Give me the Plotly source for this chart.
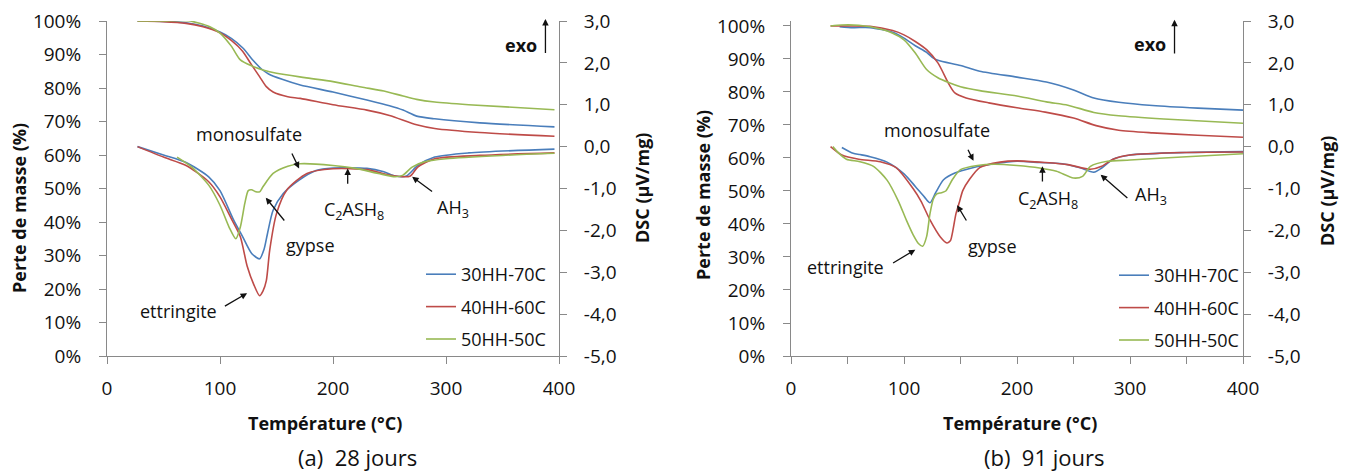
import plotly.graph_objects as go

# ---------------- DATA ----------------
SERIES = ["30HH-70C", "40HH-60C", "50HH-50C"]
COLORS = ["#4a7ebb", "#be4b48", "#98b954"]

# Panel (a) 28 jours : TG (% mass)
A_TG_BLUE_T = [27, 50, 70, 85, 100, 110, 120, 130, 137, 143, 155, 171, 200, 230, 250, 262, 274, 290, 330, 396]
A_TG_BLUE = [100, 99.9, 99.5, 98.5, 96.7, 94.8, 92.0, 88.0, 85.6, 84.2, 82.6, 80.9, 78.8, 76.4, 74.7, 73.4, 71.6, 70.8, 69.6, 68.4]
A_TG_RED_T = [27, 50, 70, 85, 100, 110, 120, 127, 135, 141, 147, 160, 171, 200, 230, 250, 274, 290, 330, 396]
A_TG_RED = [100, 99.8, 99.3, 98.3, 96.5, 94.2, 91.0, 87.4, 83.4, 80.4, 78.8, 77.4, 76.9, 75.0, 73.4, 71.8, 69.0, 67.9, 66.7, 65.6]
A_TG_GREEN_T = [27, 50, 72, 91, 100, 110, 118, 128, 138, 150, 175, 200, 225, 245, 262, 274, 290, 320, 396]
A_TG_GREEN = [100, 100, 100.1, 98.3, 96.4, 92.5, 88.4, 86.6, 85.4, 84.4, 83.1, 81.9, 80.3, 79.1, 77.6, 76.6, 75.8, 75.0, 73.5]

# Panel (a) : DSC (µV/mg)
A_DSC_BLUE_T = [27, 50, 70, 90, 100, 112, 120, 128, 135, 139, 142, 147, 156, 170, 185, 200, 230, 245, 255, 265, 275, 290, 320, 396]
A_DSC_BLUE = [0.0, -0.2, -0.38, -0.72, -1.05, -1.75, -2.15, -2.55, -2.68, -2.45, -2.08, -1.52, -1.12, -0.8, -0.57, -0.51, -0.52, -0.6, -0.7, -0.7, -0.45, -0.25, -0.15, -0.06]
A_DSC_RED_T = [27, 50, 70, 90, 100, 110, 118, 124, 130, 135, 138, 141, 144, 150, 159, 177, 200, 230, 250, 268, 275, 290, 330, 396]
A_DSC_RED = [0.0, -0.25, -0.45, -0.84, -1.2, -1.72, -2.15, -2.85, -3.3, -3.56, -3.45, -3.2, -2.47, -1.6, -1.04, -0.64, -0.53, -0.55, -0.68, -0.71, -0.49, -0.29, -0.21, -0.15]
A_DSC_GREEN_T = [62, 75, 90, 100, 108, 114, 118, 122, 125, 128, 131, 135, 138, 147, 160, 171, 200, 220, 240, 255, 262, 270, 280, 300, 350, 396]
A_DSC_GREEN = [-0.25, -0.49, -0.92, -1.4, -1.92, -2.2, -1.92, -1.35, -1.05, -1.03, -1.07, -1.08, -0.96, -0.64, -0.47, -0.41, -0.45, -0.52, -0.64, -0.72, -0.68, -0.49, -0.37, -0.29, -0.21, -0.16]

# Panel (b) 91 jours : TG (% mass)
B_TG_BLUE_T = [43, 55, 70, 90, 100, 110, 120, 125, 130, 150, 167, 200, 226, 250, 268, 290, 320, 360, 400]
B_TG_BLUE = [99.8, 99.5, 99.5, 98.1, 96.3, 94.0, 92.0, 90.5, 89.6, 88.0, 86.3, 84.5, 83.0, 80.6, 78.2, 76.9, 75.9, 75.1, 74.5]
B_TG_RED_T = [35, 50, 70, 90, 100, 110, 120, 130, 140, 145, 155, 175, 200, 225, 250, 270, 290, 320, 360, 400]
B_TG_RED = [100, 100, 99.9, 98.6, 97.3, 95.3, 92.8, 88.8, 82.2, 79.7, 78.2, 76.7, 75.2, 73.9, 72.1, 69.8, 68.4, 67.6, 66.9, 66.3]
B_TG_GREEN_T = [35, 45, 60, 80, 90, 100, 110, 120, 130, 140, 150, 167, 200, 226, 245, 268, 290, 330, 400]
B_TG_GREEN = [100, 100.3, 100.2, 99.0, 97.8, 95.8, 91.8, 86.8, 84.3, 82.8, 81.6, 80.4, 78.8, 77.0, 76.0, 73.8, 72.8, 71.8, 70.5]

# Panel (b) : DSC (µV/mg)
B_DSC_BLUE_T = [45, 55, 61, 70, 85, 100, 110, 118, 123, 128, 135, 145, 160, 180, 200, 220, 240, 255, 268, 275, 285, 300, 350, 400]
B_DSC_BLUE = [-0.02, -0.16, -0.19, -0.24, -0.37, -0.65, -0.95, -1.2, -1.34, -1.1, -0.79, -0.63, -0.51, -0.41, -0.35, -0.38, -0.41, -0.5, -0.61, -0.51, -0.3, -0.2, -0.14, -0.12]
B_DSC_RED_T = [35, 45, 60, 79, 93, 108, 115, 123, 132, 138, 141, 143, 146, 149, 152, 158, 167, 185, 200, 225, 245, 265, 275, 285, 300, 350, 400]
B_DSC_RED = [0.0, -0.2, -0.3, -0.36, -0.5, -1.0, -1.3, -1.75, -2.15, -2.3, -2.25, -2.04, -1.6, -1.33, -1.05, -0.78, -0.5, -0.37, -0.34, -0.38, -0.43, -0.54, -0.47, -0.3, -0.2, -0.14, -0.13]
B_DSC_GREEN_T = [37, 42, 49, 61, 73, 85, 95, 102, 108, 113, 116.5, 120, 123, 126, 129, 133, 137, 143, 150, 165, 180, 200, 220, 235, 250, 258, 265, 280, 300, 350, 400]
B_DSC_GREEN = [0.0, -0.15, -0.3, -0.36, -0.47, -0.8, -1.3, -1.75, -2.1, -2.32, -2.38, -2.15, -1.6, -1.25, -1.13, -1.1, -1.06, -0.78, -0.55, -0.45, -0.42, -0.45, -0.51, -0.59, -0.75, -0.71, -0.47, -0.35, -0.32, -0.24, -0.17]

PCT_TICKS = [0, 10, 20, 30, 40, 50, 60, 70, 80, 90, 100]
PCT_LABELS = [f"{v}%" for v in PCT_TICKS]
DSC_TICKS = [-5, -4, -3, -2, -1, 0, 1, 2, 3]
DSC_LABELS = ["-5,0", "-4,0", "-3,0", "-2,0", "-1,0", "0,0", "1,0", "2,0", "3,0"]
T_TICKS = [0, 100, 200, 300, 400]

# ---------------- FIGURE ----------------
FONT = "Open Sans"
AX = "#898989"
TXT = "#111"
fig = go.Figure()

panels = [
    ("x", "y", "y2", "legend",
     [(A_TG_BLUE_T, A_TG_BLUE), (A_TG_RED_T, A_TG_RED), (A_TG_GREEN_T, A_TG_GREEN)],
     [(A_DSC_BLUE_T, A_DSC_BLUE), (A_DSC_RED_T, A_DSC_RED), (A_DSC_GREEN_T, A_DSC_GREEN)]),
    ("x2", "y3", "y4", "legend2",
     [(B_TG_BLUE_T, B_TG_BLUE), (B_TG_RED_T, B_TG_RED), (B_TG_GREEN_T, B_TG_GREEN)],
     [(B_DSC_BLUE_T, B_DSC_BLUE), (B_DSC_RED_T, B_DSC_RED), (B_DSC_GREEN_T, B_DSC_GREEN)]),
]
for xa, ytg, ydsc, leg, tg, dsc in panels:
    for i, (t, v) in enumerate(tg):
        fig.add_trace(go.Scatter(x=t, y=v, xaxis=xa, yaxis=ytg, mode="lines",
                                 line=dict(color=COLORS[i], width=1.6, shape="spline", smoothing=0.7),
                                 showlegend=False, hoverinfo="skip"))
    for i, (t, v) in enumerate(dsc):
        fig.add_trace(go.Scatter(x=t, y=v, xaxis=xa, yaxis=ydsc, mode="lines", name=SERIES[i],
                                 legend=leg, legendgroup=leg + SERIES[i],
                                 line=dict(color=COLORS[i], width=1.6, shape="spline", smoothing=0.7)))

TICKFONT = dict(family=FONT, size=19, color=TXT)
common = dict(showline=True, linecolor=AX, linewidth=1, ticks="outside", tickcolor=AX, ticklen=7,
              showgrid=False, zeroline=False, automargin=False, tickfont=TICKFONT)
YDOM = [(473 - 356) / 473, (473 - 21) / 473]
XDOM_A = [107 / 1354, 559 / 1354]
XDOM_B = [791 / 1354, 1243 / 1354]

LEGFONT = dict(family=FONT, size=18, color=TXT)
fig.update_layout(
    width=1354, height=473, autosize=False,
    margin=dict(l=0, r=0, t=0, b=0, pad=0, autoexpand=False),
    paper_bgcolor="white", plot_bgcolor="white",
    font=dict(family=FONT, size=18, color=TXT),
    xaxis=dict(domain=XDOM_A, range=[0, 400], tickvals=T_TICKS, anchor="y", ticklabelstandoff=8, **common),
    yaxis=dict(domain=YDOM, range=[0, 100], tickvals=PCT_TICKS, ticktext=PCT_LABELS, anchor="x",
               ticklabelstandoff=14, **common),
    yaxis2=dict(range=[-5, 3], tickvals=DSC_TICKS, ticktext=DSC_LABELS, overlaying="y", side="right",
                anchor="x", ticklabelstandoff=13, **common),
    xaxis2=dict(domain=XDOM_B, range=[0, 400], tickvals=T_TICKS, anchor="y3", ticklabelstandoff=8,
                minor=dict(dtick=50, ticks="outside", ticklen=7, tickcolor=AX), **common),
    yaxis3=dict(domain=YDOM, range=[0, 101.5], tickvals=PCT_TICKS, ticktext=PCT_LABELS, anchor="x2",
                ticklabelstandoff=14, **common),
    yaxis4=dict(range=[-5, 3], tickvals=DSC_TICKS, ticktext=DSC_LABELS, overlaying="y3", side="right",
                anchor="x2", ticklabelstandoff=13, **common),
    legend=dict(x=421 / 1354, y=(473 - 256) / 473, xanchor="left", yanchor="top",
                font=LEGFONT, bgcolor="rgba(0,0,0,0)",
                tracegroupgap=6, itemwidth=30, traceorder="grouped"),
    legend2=dict(x=1114 / 1354, y=(473 - 257) / 473, xanchor="left", yanchor="top",
                 font=LEGFONT, bgcolor="rgba(0,0,0,0)",
                 tracegroupgap=6, itemwidth=30, traceorder="grouped"),
)

ann = []
def label(text, x, y, xr, yr, anchor="center"):
    ann.append(dict(text=text, x=x, y=y, xref=xr, yref=yr, showarrow=False, xanchor=anchor,
                    yanchor="middle", font=dict(family=FONT, size=18, color=TXT)))

def arrow(x, y, ax, ay, xr, yr):
    ann.append(dict(text="", x=x, y=y, ax=ax, ay=ay, xref=xr, yref=yr, axref=xr, ayref=yr,
                    showarrow=True, arrowhead=2, arrowsize=1, arrowwidth=1.3, arrowcolor=TXT))

# panel (a)
label("monosulfate", 126, 0.29, "x", "y2")
arrow(170, -0.52, 163, -0.13, "x", "y2")
label("gypse", 180, -2.35, "x", "y2")
arrow(140.5, -1.22, 158, -1.8, "x", "y2")
label("ettringite", 63, -3.92, "x", "y2")
arrow(124, -3.5, 103, -3.83, "x", "y2")
label("C<sub>2</sub>ASH<sub>8</sub>", 219, -1.53, "x", "y2")
arrow(213, -0.52, 213, -0.92, "x", "y2")
label("AH<sub>3</sub>", 306, -1.48, "x", "y2")
arrow(270, -0.72, 289, -1.1, "x", "y2")
label("<b>exo</b>", 382, 2.42, "x", "y2", anchor="right")
arrow(388, 3.05, 388, 2.2, "x", "y2")
# panel (b)
label("monosulfate", 129, 0.39, "x2", "y4")
arrow(161.5, -0.34, 156, -0.04, "x2", "y4")
label("ettringite", 48, -2.88, "x2", "y4")
arrow(110, -2.46, 89, -2.8, "x2", "y4")
label("gypse", 178, -2.38, "x2", "y4")
arrow(147, -1.4, 156, -1.8, "x2", "y4")
label("C<sub>2</sub>ASH<sub>8</sub>", 227, -1.26, "x2", "y4")
arrow(222.5, -0.47, 222.5, -0.87, "x2", "y4")
label("AH<sub>3</sub>", 319, -1.17, "x2", "y4")
arrow(274, -0.67, 299, -1.26, "x2", "y4")
label("<b>exo</b>", 334, 2.44, "x2", "y4", anchor="right")
arrow(339.4, 3.03, 339.4, 2.19, "x2", "y4")

def paper_text(text, px, py, size, bold=False, angle=0):
    ann.append(dict(text=f"<b>{text}</b>" if bold else text, x=px / 1354, y=(473 - py) / 473,
                    xref="paper", yref="paper", showarrow=False, xanchor="center", yanchor="middle",
                    textangle=angle, font=dict(family=FONT, size=size, color=TXT)))

paper_text("Perte de masse (%)", 19, 208, 18, True, -90)
paper_text("DSC (µV/mg)", 642, 188, 18, True, -90)
paper_text("Température (°C)", 325, 423, 18, True)
paper_text("(a)  28 jours", 357, 457, 22)
paper_text("Perte de masse (%)", 703, 195, 18, True, -90)
paper_text("DSC (µV/mg)", 1327, 191, 18, True, -90)
paper_text("Température (°C)", 1020, 423, 18, True)
paper_text("(b)  91 jours", 1044, 457, 22)

fig.update_layout(annotations=ann)
fig.write_html("out.html", config={"displayModeBar": False},
               post_script="document.body.style.margin='0';document.body.style.overflow='hidden';")
